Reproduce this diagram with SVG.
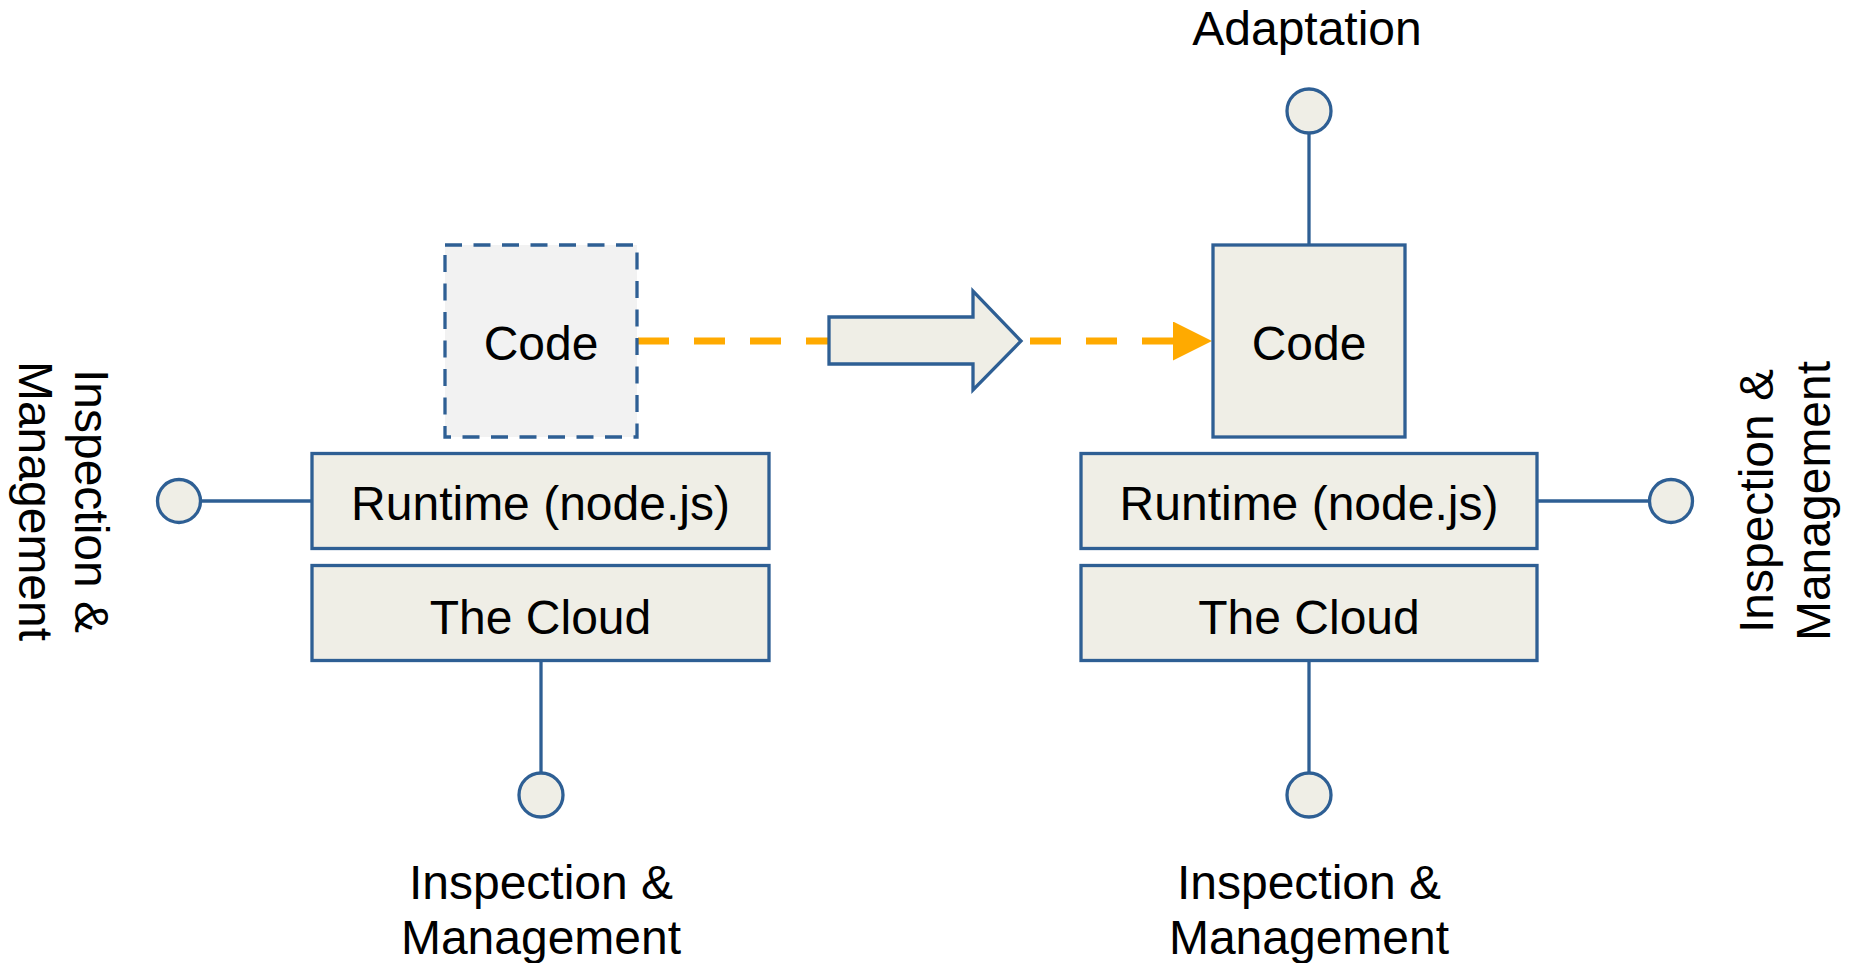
<svg xmlns="http://www.w3.org/2000/svg" width="1849" height="963" viewBox="0 0 1849 963">
  <style>
    .box { fill: #EFEEE6; stroke: #2E5F94; stroke-width: 3.3; }
    .ghost { fill: #F2F2F2; stroke: #2E5F94; stroke-width: 3.3; stroke-dasharray: 17 11.5; }
    .port { fill: #EFEEE6; stroke: #2E5F94; stroke-width: 3.3; }
    .wire { stroke: #2E5F94; stroke-width: 3.3; fill: none; }
    .flow { stroke: #FFAA00; stroke-width: 7; fill: none; stroke-dasharray: 31 25; }
    text { font-family: "Liberation Sans", Arial, sans-serif; font-size: 48px; fill: #000; }
    .c { text-anchor: middle; }
  </style>
  <defs>
    <marker id="orangeHead" markerUnits="userSpaceOnUse" markerWidth="39" markerHeight="39" refX="7" refY="19.5" orient="auto">
      <path d="M0,0 L39,19.5 L0,39 Z" fill="#FFAA00"/>
    </marker>
  </defs>

  <!-- connectors -->
  <g id="connectors">
    <line class="flow" x1="638" y1="341" x2="1180" y2="341" marker-end="url(#orangeHead)"/>
    <line class="wire" x1="200.5" y1="501" x2="312" y2="501"/>
    <line class="wire" x1="541" y1="660.5" x2="541" y2="773"/>
    <line class="wire" x1="1309" y1="133" x2="1309" y2="245"/>
    <line class="wire" x1="1537" y1="501" x2="1649.5" y2="501"/>
    <line class="wire" x1="1309" y1="660.5" x2="1309" y2="773"/>
  </g>

  <!-- transition arrow -->
  <g id="transition">
    <polygon class="box" points="829,317 973,317 973,291 1021,341 973,390 973,364 829,364"/>
  </g>

  <!-- left stack: before -->
  <g id="code-before">
    <rect class="ghost" x="445" y="245" width="192" height="192"/>
    <text class="c" x="541" y="360">Code</text>
  </g>
  <g id="runtime-before">
    <rect class="box" x="312" y="453.5" width="457" height="95"/>
    <text class="c" x="540.5" y="520">Runtime (node.js)</text>
  </g>
  <g id="cloud-before">
    <rect class="box" x="312" y="565.5" width="457" height="95"/>
    <text class="c" x="540.5" y="634">The Cloud</text>
  </g>
  <g id="port-left">
    <circle class="port" cx="179" cy="501" r="21.5"/>
    <text class="c" transform="translate(75,501) rotate(90)">Inspection &amp;</text>
    <text class="c" transform="translate(19,501) rotate(90)">Management</text>
  </g>
  <g id="port-bottom-left">
    <circle class="port" cx="541" cy="795" r="22"/>
    <text class="c" x="541" y="899">Inspection &amp;</text>
    <text class="c" x="541" y="954">Management</text>
  </g>

  <!-- right stack: after -->
  <g id="code-after">
    <rect class="box" x="1213" y="245" width="192" height="192"/>
    <text class="c" x="1309" y="360">Code</text>
  </g>
  <g id="runtime-after">
    <rect class="box" x="1081" y="453.5" width="456" height="95"/>
    <text class="c" x="1309" y="520">Runtime (node.js)</text>
  </g>
  <g id="cloud-after">
    <rect class="box" x="1081" y="565.5" width="456" height="95"/>
    <text class="c" x="1309" y="634">The Cloud</text>
  </g>
  <g id="port-top">
    <circle class="port" cx="1309" cy="111" r="22"/>
    <text class="c" x="1307" y="45">Adaptation</text>
  </g>
  <g id="port-right">
    <circle class="port" cx="1671" cy="501" r="21.5"/>
    <text class="c" transform="translate(1773,501) rotate(-90)">Inspection &amp;</text>
    <text class="c" transform="translate(1830,501) rotate(-90)">Management</text>
  </g>
  <g id="port-bottom-right">
    <circle class="port" cx="1309" cy="795" r="22"/>
    <text class="c" x="1309" y="899">Inspection &amp;</text>
    <text class="c" x="1309" y="954">Management</text>
  </g>
</svg>
